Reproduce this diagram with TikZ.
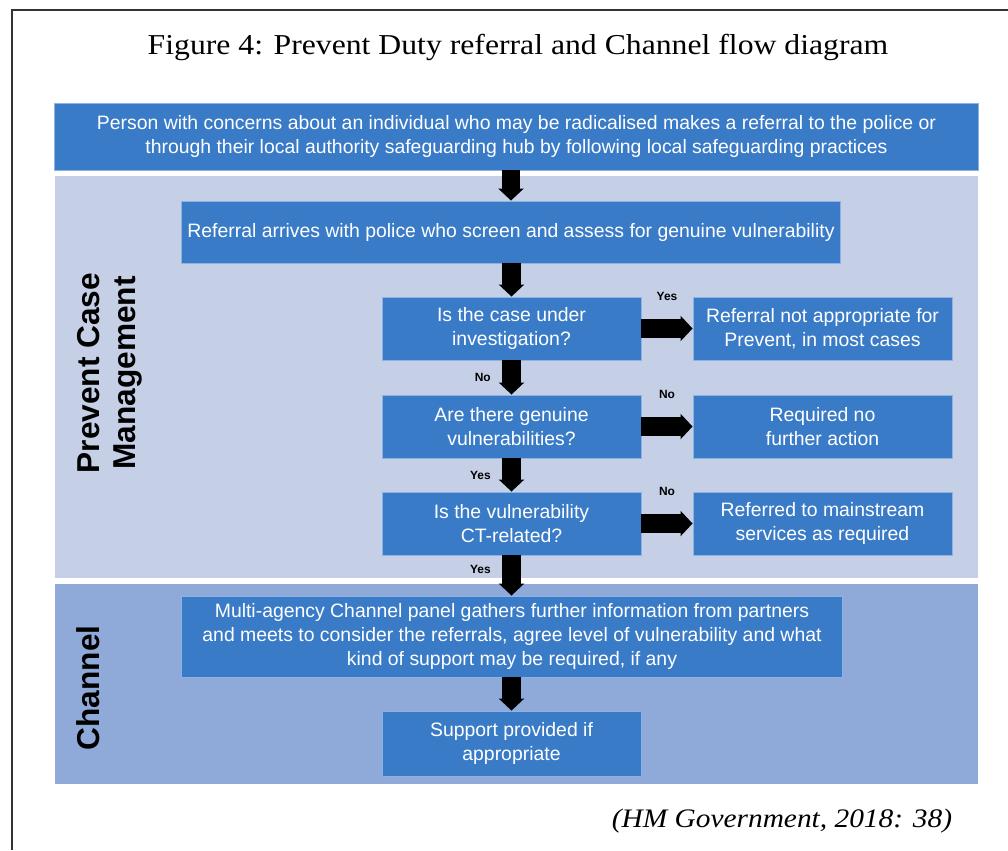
\documentclass[tikz,border=0pt]{standalone}
\usepackage{fontspec}
\setmainfont{Liberation Serif}
\setsansfont{Liberation Sans}
\newfontfamily\capfont[FakeStretch=1.1]{Liberation Serif}
\usetikzlibrary{arrows.meta}
\definecolor{Frame}{HTML}{333333}
\definecolor{BoxBlue}{HTML}{3A7BC8}
\definecolor{BoxEdge}{HTML}{8DB3E6}
\definecolor{BandPale}{HTML}{C5D0E7}
\definecolor{BandDeep}{HTML}{8FAAD9}
\tikzset{
  bx/.style={rectangle,draw=BoxEdge,line width=0.6pt,fill=BoxBlue,text=white,font=\sffamily\fontsize{13.8}{17}\selectfont,align=center,inner sep=0pt},
  qx/.style={bx,minimum width=6.475cm,minimum height=1.575cm},
  band/.style={rectangle,draw=none,minimum width=23.075cm,inner sep=0pt},
  blk/.style={draw=black,line width=13.5pt,-{Triangle[length=0.3cm,width=0.62cm]}},
  yn/.style={font=\sffamily\bfseries\fontsize{8.5}{10}\selectfont,text=black,inner sep=0pt},
  side/.style={rotate=90,font=\sffamily\bfseries\fontsize{22.5}{26}\selectfont,text=black,align=center},
}

\begin{document}
\begin{tikzpicture}[x=0.025cm,y=-0.025cm]
\useasboundingbox (0,0) rectangle (1008,850);
\draw[Frame,line width=1.4pt] (12,850) -- (12,10) -- (1008,10);
\node[font=\capfont\fontsize{20.5}{24}\selectfont] (title) at (518,47) {Figure 4: Prevent Duty referral and Channel flow diagram};
% -bands-
\node[band,fill=BandPale,minimum height=10.05cm] (pcm) at (516.5,377) {};
\node[band,fill=BandDeep,minimum height=5cm] (chn) at (516.5,684) {};
\node[side] (pcmlbl) at (110,373) {Prevent Case\\Management};
\node[side] (chnlbl) at (88,688) {Channel};
% -referral-
\node[bx,minimum width=23.075cm,minimum height=1.675cm] (top) at (516.5,136.5) {Person with concerns about an individual who may be radicalised makes a referral to the police or\\through their local authority safeguarding hub by following local safeguarding practices};
\node[bx,minimum width=16.45cm,minimum height=1.55cm] (ref) at (511,232) {Referral arrives with police who screen and assess for genuine vulnerability};
% -questions-
\node[qx] (q1) at (511.5,328.5) {Is the case under\\investigation?};
\node[qx] (r1) at (822.5,328.5) {Referral not appropriate for\\Prevent, in most cases};
\node[qx] (q2) at (511.5,426.5) {Are there genuine\\vulnerabilities?};
\node[qx] (r2) at (822.5,426.5) {Required no\\further action};
\node[qx] (q3) at (511.5,523.5) {Is the vulnerability\\CT-related?};
\node[qx] (r3) at (822.5,523.5) {Referred to mainstream\\services as required};
% -channel-
\node[bx,minimum width=16.5cm,minimum height=2.025cm] (panel) at (512,636.5) {Multi-agency Channel panel gathers further information from partners\\and meets to consider the referrals, agree level of vulnerability and what\\kind of support may be required, if any};
\node[qx,minimum height=1.625cm] (sup) at (511.5,743.5) {Support provided if\\appropriate};
% -arrows-
\draw[blk] (top.south -| ref.north) -- (ref.north);
\draw[blk] (ref.south -| q1.north) -- (q1.north);
\draw[blk] (q1) -- node[yn,left=8pt] (no1) {No} (q2);
\draw[blk] (q2) -- node[yn,left=8pt] (yes2) {Yes} (q3);
\draw[blk] (q3.south) -- node[yn,left=8pt,pos=0.35] (yes3) {Yes} (panel.north -| q3.south);
\draw[blk] (panel.south -| sup.north) -- (sup.north);
\draw[blk] (q1) -- node[yn,above=13pt] (yes1) {Yes} (r1);
\draw[blk] (q2) -- node[yn,above=13pt] (no2) {No} (r2);
\draw[blk] (q3) -- node[yn,above=13pt] (no3) {No} (r3);
\node[font=\capfont\itshape\fontsize{19}{22}\selectfont] (cite) at (782,821) {(HM Government, 2018: 38)};
\end{tikzpicture}
\end{document}
